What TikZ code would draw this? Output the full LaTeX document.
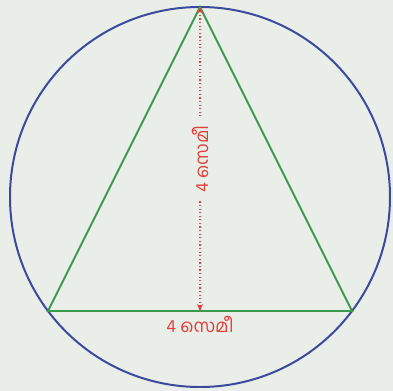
\documentclass[tikz,border=0pt]{standalone}
\usepackage{fontspec}
\newfontfamily\malfont[Script=Malayalam]{Hind Kochi}
\usetikzlibrary{arrows.meta, positioning}
\definecolor{bg}{HTML}{E9EEE8}
\definecolor{rim}{HTML}{3B4A9E}
\definecolor{side}{HTML}{3A9A4C}
\definecolor{measure}{HTML}{E2403A}

\begin{document}
\begin{tikzpicture}[x=76bp, y=76bp,
  lab/.style={text=measure, font=\malfont\fontsize{18}{20}\selectfont, inner sep=3pt}]
  % background and frame
  \fill[bg] (-200/76,-194/76) rectangle (193/76,197/76);
  \useasboundingbox (-200/76,-194/76) rectangle (193/76,197/76);
  \coordinate (O) at (0,0);
  \coordinate (A) at (0,2.5);
  \coordinate (B) at (-2,-1.5);
  \coordinate (C) at (2,-1.5);
  \coordinate (F) at (0,-1.5);
  \draw[rim, line width=2pt] (O) circle (2.5);
  \draw[side, line width=1.9pt] (A) -- (B) -- (C) -- cycle;
  \draw[measure, line width=1.2pt, dash pattern=on 1.2pt off 2.4pt,
        {Stealth[length=7pt,width=6pt]}-{Stealth[length=7pt,width=6pt]}]
    (A) -- (F) node[midway, lab, fill=bg, inner xsep=6pt, rotate=90] (hgt) {4 സെമീ};
  \path (B) -- (C) node[midway, below=2pt, lab] (wid) {4 സെമീ};
\end{tikzpicture}
\end{document}
